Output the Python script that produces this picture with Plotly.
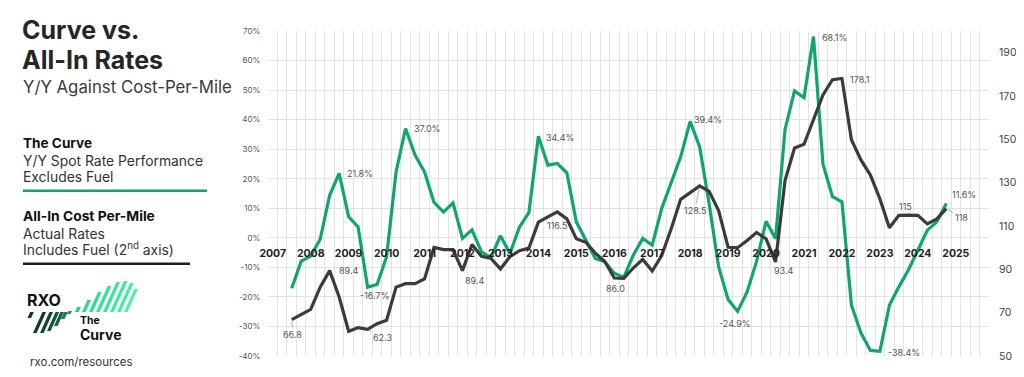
import plotly.graph_objects as go

# ---------------- data ----------------
quarters = [(y, q) for y in range(2007, 2025) for q in range(1, 5)][2:]  # 2007 Q3 .. 2024 Q4

curve_yoy = [  # The Curve, Y/Y spot rate (%), excl. fuel
    -17.1, -7.9, -6.2, -0.5, 14.4, 21.8, 7.1, 3.7, -16.7, -15.8,
    -6.4, 22.3, 37.0, 28.0, 22.3, 12.0, 8.7, 11.8, -0.2, 2.7,
    -4.8, -6.7, 0.7, -5.3, 3.6, 8.5, 34.4, 24.6, 25.2, 22.0,
    5.4, -0.8, -7.0, -8.1, -12.0, -13.4, -5.9, -0.2, -2.5, 9.9,
    19.0, 27.4, 39.4, 30.8, 11.5, -9.8, -20.9, -24.9, -18.3, -8.0,
    5.6, -0.3, 36.7, 49.7, 47.4, 68.1, 24.9, 13.9, 12.2, -22.8,
    -32.2, -38.1, -38.4, -22.8, -16.6, -10.9, -4.2, 2.6, 5.4, 11.6,
]

all_in_cpm = [  # All-in cost per mile (index, 2nd axis)
    66.8, 69.2, 71.5, 81.8, 89.4, 77.2, 61.4, 63.1, 62.3, 64.9,
    66.5, 81.8, 83.4, 83.4, 85.6, 100.1, 99.1, 99.1, 89.4, 101.5,
    96.0, 95.0, 90.2, 95.8, 98.6, 99.8, 111.8, 114.2, 116.5, 113.3,
    104.1, 102.5, 97.5, 93.6, 86.0, 85.8, 90.6, 94.6, 89.2, 96.4,
    108.7, 122.3, 125.6, 128.5, 126.0, 117.1, 100.2, 100.0, 103.3, 107.0,
    104.1, 93.4, 131.0, 146.0, 147.7, 158.6, 170.5, 177.5, 178.1, 149.8,
    140.5, 133.5, 122.5, 109.2, 114.9, 115.0, 114.9, 111.0, 113.3, 118.0,
]

year_labels = [str(y) for y in range(2007, 2026)]
left_ticks = list(range(-40, 71, 10))
right_ticks = list(range(50, 191, 20))

# ---------------- styling ----------------
GREEN = "#10A56B"
DARK = "#3B3B3B"
FONT = "Inter"

# page body has an 8px margin on every side; size the figure so the page never overflows
OFF = 8
W, H = 1024 - 2 * OFF, 377 - 2 * OFF
P_L, P_R, P_T, P_B = 268, 989, 31, 356  # plot area in screen pixels
ML, MR, MT, MB = P_L - OFF, W - (P_R - OFF), P_T - OFF, H - (P_B - OFF)
PW, PH = P_R - P_L, P_B - P_T


def px(x):
    return (x - P_L) / PW


def py(y):
    return (P_B - y) / PH


xq = [(y - 2007) * 4 + (q - 1) for (y, q) in quarters]
year_pos = [(int(y) - 2007) * 4 for y in year_labels]

fig = go.Figure()
fig.add_trace(go.Scatter(x=xq, y=curve_yoy, mode="lines", name="The Curve",
                         line=dict(color=GREEN, width=3.2), yaxis="y", hoverinfo="skip"))
fig.add_trace(go.Scatter(x=xq, y=all_in_cpm, mode="lines", name="All-In Cost Per-Mile",
                         line=dict(color=DARK, width=3.2), yaxis="y2", hoverinfo="skip"))

annotations = []

# data labels: (series, index in list, fmt, xanchor, xshift, yshift, arrow(ax, ay) or None)
labels = [
    ("g", 5, "{:.1f}%", "left", 6, 0, None),
    ("g", 12, "{:.1f}%", "left", 6, 0, None),
    ("g", 8, "{:.1f}%", "center", 7, -8, None),
    ("b", 4, "{:.1f}", "left", 7, 0, None),
    ("b", 18, "{:.1f}", "center", 13, -10, None),
    ("g", 26, "{:.1f}%", "left", 6, -1, None),
    ("b", 28, "{:.1f}", "center", 0, -14, None),
    ("b", 34, "{:.1f}", "center", 1, -10, None),
    ("g", 42, "{:.1f}%", "left", 2, 2, None),
    ("g", 47, "{:.1f}%", "center", -3, -12, None),
    ("b", 51, "{:.1f}", "center", 8, -9, None),
    ("g", 55, "{:.1f}%", "left", 7, -1, None),
    ("b", 58, "{:.1f}", "left", 6, -1, None),
    ("b", 65, "{:.0f}", "center", -3, 9, None),
    ("g", 69, "{:.1f}%", "left", 4, 9, None),
    ("g", 62, "{:.1f}%", "left", 6, -1, None),
    ("b", 0, "{:.1f}", None, 0, 0, (1, 15)),
    ("b", 8, "{:.1f}", None, 0, 0, (15, 8)),
    ("b", 43, "{:.1f}", None, 0, 0, (-5, 25)),
    ("b", 69, "{:.0f}", None, 0, 0, (15, 9)),
]
for s, i, fmt, xa, xs, ys, arrow in labels:
    vals = curve_yoy if s == "g" else all_in_cpm
    yref = "y" if s == "g" else "y2"
    a = dict(x=xq[i], y=vals[i], xref="x", yref=yref, text=fmt.format(vals[i]),
             font=dict(family=FONT, size=9, color="#555555"))
    if arrow is None:
        a.update(showarrow=False, xanchor=xa, yanchor="middle", xshift=xs, yshift=ys)
    else:
        a.update(showarrow=True, arrowhead=0, arrowwidth=0.8, arrowcolor="#9a9a9a",
                 ax=arrow[0], ay=arrow[1], standoff=2)
    annotations.append(a)

# ---------------- left panel text ----------------
def panel_text(text, x, y, size, color="#222222", bold=False):
    t = f"<b>{text}</b>" if bold else text
    annotations.append(dict(text=t, x=px(x), y=py(y), xref="paper", yref="paper",
                            xanchor="left", yanchor="middle", showarrow=False,
                            font=dict(family=FONT, size=size, color=color)))

panel_text("Curve vs.", 20, 30, 25, "#262626", True)
panel_text("All-In Rates", 20, 59.5, 25, "#262626", True)
panel_text("Y/Y Against Cost-Per-Mile", 21, 87, 16.8, "#3a3a3a")
panel_text("The Curve", 21, 142.5, 13.6, "#111111", True)
panel_text("Y/Y Spot Rate Performance", 21, 161, 13.9, "#333333")
panel_text("Excludes Fuel", 21, 177, 13.9, "#333333")
panel_text("All-In Cost Per-Mile", 21, 215.5, 13.8, "#111111", True)
panel_text("Actual Rates", 21, 233.5, 13.9, "#333333")
panel_text("Includes Fuel (2<sup>nd</sup> axis)", 21, 248.5, 13.9, "#333333")
panel_text("RXO", 25, 300, 16, "#111111", True)
panel_text("The", 78, 320, 10.5, "#111111", True)
panel_text("Curve", 77.5, 334, 14, "#111111", True)
panel_text("rxo.com/resources", 28, 362, 11.5, "#333333")

shapes = [
    dict(type="line", xref="paper", yref="paper", x0=px(23), x1=px(207), y0=py(190.7), y1=py(190.7),
         line=dict(color=GREEN, width=2.5)),
    dict(type="line", xref="paper", yref="paper", x0=px(23), x1=px(190), y0=py(263.7), y1=py(263.7),
         line=dict(color="#1e1e1e", width=2.5)),
]

# logo stripes (decoration)
def stripe(xb, yb, yt, color, w=3.6, slant=0.45):
    xt = xb + (yb - yt) * slant
    path = (f"M {px(xb)},{py(yb)} L {px(xb + w)},{py(yb)} "
            f"L {px(xt + w)},{py(yt)} L {px(xt)},{py(yt)} Z")
    shapes.append(dict(type="path", xref="paper", yref="paper", path=path,
                       fillcolor=color, line=dict(width=0)))

dark_stripes = [(27.5, 318, 312, "#0f3a29"), (33, 333, 312, "#0e3d2b"), (40, 333, 312, "#114630"),
                (47, 331, 312, "#155438"), (54, 326, 312, "#1a6343"), (61, 319, 312, "#1f7a4f"),
                (67, 314, 311, "#24905c")]
for xb, yb, yt, c in dark_stripes:
    stripe(xb, yb, yt, c)

light_stripes = [(75, 312, 307, "#1fd489"), (82, 312, 300, "#22dc8f"), (89, 312, 292, "#27e094"),
                 (96, 312, 286, "#2ee39a"), (103, 312, 282, "#36e6a0"), (110, 312, 281, "#40e8a6"),
                 (117, 312, 283, "#4aeaab"), (124, 312, 289, "#55ecb0")]
for xb, yb, yt, c in light_stripes:
    stripe(xb, yb, yt, c)

fig.update_layout(
    width=W, height=H, autosize=False,
    margin=dict(l=ML, r=MR, t=MT, b=MB, pad=0, autoexpand=False),
    paper_bgcolor="white", plot_bgcolor="white",
    showlegend=False,
    font=dict(family=FONT),
    xaxis=dict(
        range=[-0.5, 75.5], tickmode="array", tickvals=year_pos, ticktext=year_labels,
        tickfont=dict(family=FONT, size=10.5, color="#222222", weight=700),
        anchor="free", position=40 / 110, showgrid=False, zeroline=False, showline=False,
        ticks="outside", ticklen=6, tickcolor="rgba(0,0,0,0)", automargin=False,
        minor=dict(tickmode="array", tickvals=[k - 0.5 for k in range(77)], showgrid=True,
                   gridcolor="#e3e3e3", gridwidth=1, ticks=""),
    ),
    yaxis=dict(
        range=[-40, 70], tickmode="array", tickvals=left_ticks,
        ticktext=[f"{v}%" for v in left_ticks],
        tickfont=dict(family=FONT, size=8, color="#555555"),
        showgrid=True, gridcolor="#e3e3e3", gridwidth=1, zeroline=False, showline=False,
        ticks="outside", ticklen=5, tickcolor="rgba(0,0,0,0)", automargin=False,
    ),
    yaxis2=dict(
        range=[50, 200], overlaying="y", side="right", tickmode="array", tickvals=right_ticks,
        tickfont=dict(family=FONT, size=10.5, color="#444444"),
        showgrid=False, zeroline=False, showline=False,
        ticks="outside", ticklen=7, tickcolor="rgba(0,0,0,0)", automargin=False,
    ),
    annotations=annotations,
    shapes=shapes,
)

fig.write_html("out.html")
